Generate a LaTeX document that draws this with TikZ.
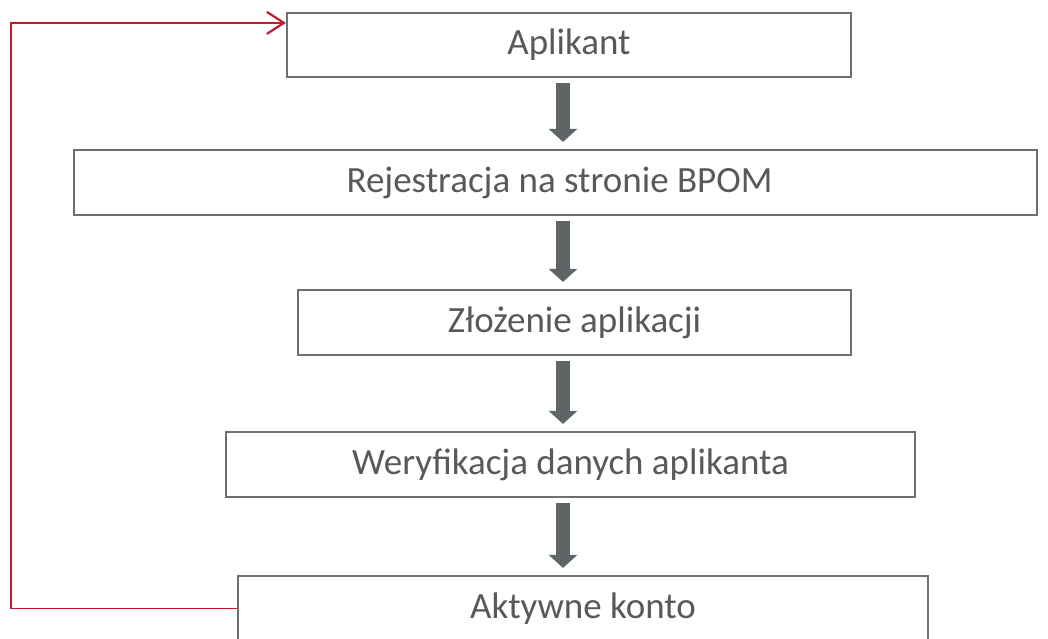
\documentclass[tikz,border=0pt]{standalone}
\usepackage{fontspec}
\setmainfont{Carlito}
\usetikzlibrary{arrows.meta,calc}
\definecolor{boxgray}{RGB}{108,112,115}
\definecolor{arrgray}{RGB}{95,100,102}
\definecolor{txtgray}{RGB}{89,89,89}
\definecolor{loopred}{RGB}{192,28,48}
\begin{document}
\begin{tikzpicture}[x=1pt,y=-1pt,
  stepbox/.style={draw=boxgray,line width=2.2pt,fill=white,rectangle,inner sep=0pt,
    text=txtgray,font=\fontsize{37}{44}\selectfont},
  blockarrow/.style={draw=arrgray,line width=14pt,
    -{Triangle[width=28pt,length=13pt]},shorten <=5pt,shorten >=7pt},
  loopline/.style={draw=loopred,line width=1.6pt,
    -{Straight Barb[length=17pt,width=22pt,line width=2.2pt]}}]
\useasboundingbox (0,0) rectangle (1048,638);
\clip (0,0) rectangle (1048,638);
\node[stepbox,minimum width=564pt,minimum height=64pt] (b1) at (569,45) {Aplikant};
\node[stepbox,minimum width=963pt,minimum height=65pt] (b2) at (555.5,182.5) {\hspace*{8pt}Rejestracja na stronie BPOM};
\node[stepbox,minimum width=553pt,minimum height=65pt] (b3) at (574.5,322.5) {Złożenie aplikacji};
\node[stepbox,minimum width=689pt,minimum height=65pt] (b4) at (570.5,464.5) {Weryfikacja danych aplikanta};
\node[stepbox,minimum width=690pt,minimum height=65pt] (b5) at (583,608.5) {Aktywne konto};
\coordinate (ax) at (563,0);
\draw[blockarrow] (b1.south -| ax) -- (b2.north -| ax);
\draw[blockarrow] (b2.south -| ax) -- (b3.north -| ax);
\draw[blockarrow] (b3.south -| ax) -- (b4.north -| ax);
\draw[blockarrow] (b4.south -| ax) -- (b5.north -| ax);
\coordinate (lx) at (11,0);
\coordinate (tgt) at ($(b1.north west)+(0,11)$);
\draw[loopline] (b5.west) -- (b5.west -| lx) -- (tgt -| lx) -- (tgt);
\end{tikzpicture}
\end{document}
